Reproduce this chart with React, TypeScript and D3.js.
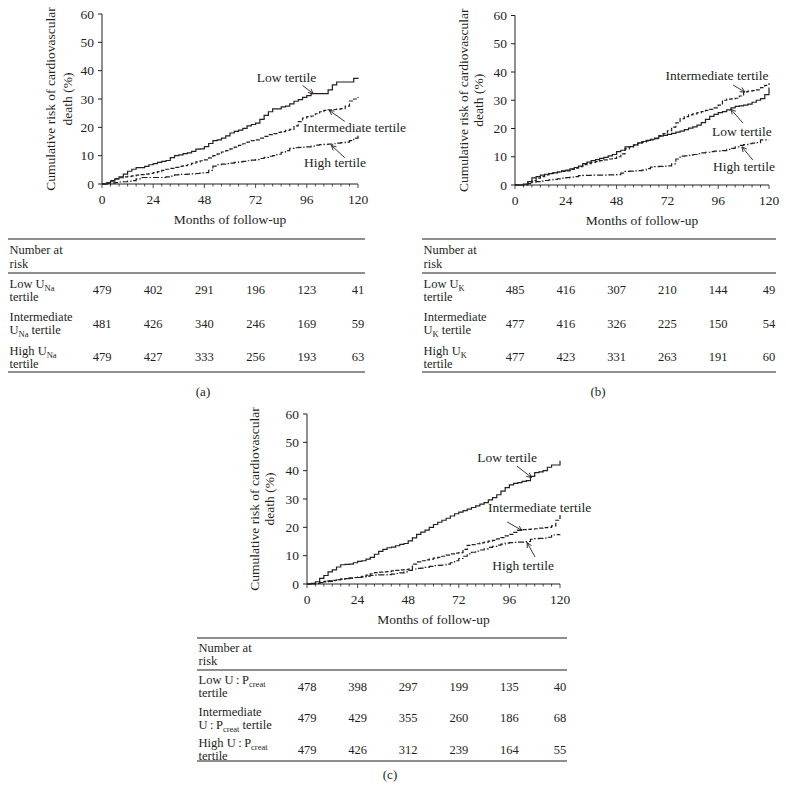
import React from "react";
import * as d3 from "d3";

// ---------- data ----------
const MONTHS = [
  0, 2, 4, 6, 8, 10, 12, 14, 16, 18,
  20, 22, 24, 26, 28, 30, 32, 34, 36, 38,
  40, 42, 44, 46, 48, 50, 52, 54, 56, 58,
  60, 62, 64, 66, 68, 70, 72, 74, 76, 78,
  80, 82, 84, 86, 88, 90, 92, 94, 96, 98,
  100, 102, 104, 106, 108, 110, 112, 114, 116, 118,
  120,
];
const X_TICKS = [0, 24, 48, 72, 96, 120];
const Y_TICKS = [0, 10, 20, 30, 40, 50, 60];
const SERIES_NAMES = ["Low tertile", "Intermediate tertile", "High tertile"];

// Panel (a): urinary sodium
const lowA = [
  0, 0.3, 1.0, 1.8, 2.5, 3.5, 4.5, 5.2, 5.8, 5.8,
  6.2, 6.8, 7.2, 7.6, 8.0, 8.3, 9.3, 10.0, 10.3, 10.7,
  11.0, 11.5, 12.3, 12.4, 13.2, 14.3, 15.3, 15.6, 16.2, 17.0,
  18.0, 18.6, 19.0, 19.6, 20.5, 21.0, 21.5, 22.8, 24.2, 25.5,
  26.5, 26.5, 27.2, 27.5, 28.3, 29.2, 29.8, 30.6, 31.2, 31.9,
  31.9, 31.9, 31.9, 33.2, 35.0, 36.0, 36.0, 36.0, 36.0, 37.3,
  37.5,
];
const midA = [
  0, 0.5, 1.2, 1.8, 2.2, 2.5, 2.7, 2.9, 3.1, 3.3,
  3.5, 3.7, 4.0, 4.4, 4.8, 5.2, 5.5, 5.9, 6.2, 6.5,
  6.8, 7.3, 7.8, 8.2, 8.5, 9.2, 10.0, 10.6, 11.3, 11.8,
  12.4, 13.0, 13.6, 14.2, 14.8, 15.3, 15.6, 16.2, 16.8, 17.4,
  17.8, 18.2, 18.5, 18.9, 19.3, 20.5, 22.0, 23.3, 23.8, 24.0,
  24.8, 25.5, 26.0, 26.2, 26.3, 26.4, 26.6, 27.5, 29.3, 30.0,
  30.7,
];
const highA = [
  0, 0, 0.3, 0.5, 0.7, 0.8, 1.0, 1.2, 1.8, 2.3,
  2.3, 2.3, 2.3, 2.3, 2.3, 2.5, 2.8, 3.2, 3.4, 3.4,
  3.5, 3.6, 3.7, 3.9, 4.0, 4.8, 6.3, 6.8, 7.0, 7.2,
  7.4, 7.6, 7.8, 8.0, 8.2, 8.4, 8.6, 9.0, 9.4, 9.8,
  10.0, 10.5, 11.2, 11.8, 12.6, 12.8, 12.9, 13.0, 13.1, 13.4,
  13.7, 13.9, 14.0, 14.1, 14.2, 14.4, 14.6, 14.8, 15.3, 16.2,
  17.0,
];
const riskLowA = [479, 402, 291, 196, 123, 41];
const riskMidA = [481, 426, 340, 246, 169, 59];
const riskHighA = [479, 427, 333, 256, 193, 63];

// Panel (b): urinary potassium
const lowB = [
  0, 0, 0.3, 1.2, 2.5, 3.0, 3.5, 3.8, 4.0, 4.3,
  4.6, 5.0, 5.3, 5.7, 6.2, 6.7, 7.6, 8.1, 8.6, 9.0,
  9.4, 9.8, 10.3, 10.8, 11.8, 12.3, 13.5, 13.6, 14.2, 14.9,
  15.4, 15.8, 16.2, 16.6, 17.3, 17.6, 17.9, 18.3, 18.7, 19.1,
  19.6, 20.1, 20.6, 21.2, 22.1, 23.2, 24.3, 25.0, 25.6, 26.0,
  26.6, 27.3, 27.8, 28.0, 28.3, 28.6, 29.3, 30.0, 30.6, 32.0,
  34.5,
];
const midB = [
  0, 0, 0.2, 0.8, 1.6, 2.4, 3.0, 3.6, 4.1, 4.4,
  4.6, 4.8, 5.0, 5.5, 6.0, 6.5, 7.2, 7.6, 8.0, 8.3,
  8.6, 8.9, 9.2, 9.4, 10.0, 11.0, 12.8, 13.5, 14.1, 14.7,
  15.2, 15.6, 16.0, 16.4, 17.5, 18.2, 19.2, 20.5, 22.0, 23.5,
  24.2, 24.8, 25.2, 25.6, 26.0, 26.4, 26.8, 27.3, 28.3, 30.0,
  30.4, 30.5, 30.7, 31.5, 33.0, 33.2, 33.4, 33.7, 34.5, 35.3,
  36.0,
];
const highB = [
  0, 0, 0, 0.5, 1.0, 1.2, 1.4, 1.6, 1.8, 2.0,
  2.2, 2.4, 2.6, 2.8, 3.0, 3.3, 3.4, 3.4, 3.5, 3.5,
  3.5, 3.5, 3.6, 3.6, 3.7, 4.2, 4.8, 4.9, 5.0, 5.1,
  5.3, 5.8, 6.3, 6.5, 6.6, 6.7, 6.8, 7.5, 9.2, 10.2,
  10.3, 10.5, 10.8, 11.1, 11.4, 11.6, 11.8, 12.0, 12.0, 12.2,
  12.6, 13.0, 13.5, 14.0, 14.3, 14.6, 14.8, 15.0, 16.0, 16.0,
  16.0,
];
const riskLowB = [485, 416, 307, 210, 144, 49];
const riskMidB = [477, 416, 326, 225, 150, 54];
const riskHighB = [477, 423, 331, 263, 191, 60];

// Panel (c): urine-to-plasma creatinine
const lowC = [
  0, 0.2, 0.8, 2.0, 3.0, 4.3, 5.0, 6.0, 6.8, 6.9,
  7.0, 7.5, 8.0, 8.2, 8.8, 9.4, 10.5, 11.5, 12.2, 12.8,
  13.0, 13.5, 14.0, 14.3, 15.2, 16.3, 17.5, 18.3, 19.0, 20.0,
  21.0, 21.8, 22.5, 23.2, 24.0, 24.8, 25.4, 25.9, 26.4, 27.0,
  27.6, 28.2, 28.7, 29.7, 30.5, 31.5, 32.8, 34.0, 35.0, 35.5,
  35.8, 36.2, 36.5, 38.0, 39.3, 39.6, 40.0, 41.2, 42.0, 42.0,
  43.5,
];
const midC = [
  0, 0, 0.2, 0.6, 0.9, 1.1, 1.3, 1.5, 1.7, 1.9,
  2.1, 2.3, 2.4, 2.7, 3.1, 3.6, 4.0, 4.2, 4.3, 4.4,
  4.6, 4.8, 5.0, 5.1, 5.3, 7.0, 7.8, 8.2, 8.5, 8.8,
  9.1, 9.4, 9.8, 10.2, 10.6, 10.9, 11.1, 12.2, 13.6, 13.9,
  14.2, 14.5, 14.8, 15.1, 15.4, 15.9, 16.4, 17.0, 17.5, 18.2,
  18.9, 19.2, 19.3, 19.4, 19.5, 19.7, 19.9, 20.0, 20.5, 22.5,
  24.5,
];
const highC = [
  0, 0, 0.2, 0.5, 0.7, 0.9, 1.2, 1.5, 1.7, 1.9,
  2.1, 2.2, 2.3, 2.5, 2.8, 3.0, 3.1, 3.2, 3.2, 3.3,
  3.5, 3.7, 3.9, 4.3, 4.8, 5.3, 5.5, 5.6, 5.9, 6.2,
  6.5, 6.6, 6.7, 7.0, 7.5, 8.2, 9.0, 9.8, 10.6, 11.2,
  11.6, 12.0, 12.4, 12.9, 13.3, 13.7, 14.1, 14.4, 14.6, 14.7,
  14.8, 14.8, 15.0, 15.8, 16.0, 16.1, 16.2, 16.5, 17.3, 17.4,
  17.5,
];
const riskLowC = [478, 398, 297, 199, 135, 40];
const riskMidC = [479, 429, 355, 260, 186, 68];
const riskHighC = [479, 426, 312, 239, 164, 55];

// ---------- styling ----------
const INK = "#231f20";
const FONT = "'Liberation Serif', 'Times New Roman', serif";
const DASHES = ["none", "4,2", "6,2,1.5,2"];

type Seg = { t: string; sub?: boolean };
type Ann = {
  text: string;
  at: [number, number];
  anchor: "start" | "middle";
  from: [number, number];
  to: [number, number];
};
type PanelCfg = {
  id: string;
  left: number;
  right: number;
  top: number;
  bottom: number;
  yTitleX: [number, number];
  series: number[][];
  anns: Ann[];
  table: {
    left: number;
    right: number;
    top: number;
    head: [number, number];
    headLine: number;
    rows: number[];
    gap: number;
    bottom: number;
    labels: Seg[][][];
    risk: number[][];
  };
  caption: [number, number, string];
};

const UP = "U\u2009:\u2009P";

const PANELS: PanelCfg[] = [
  {
    id: "a",
    left: 102,
    right: 358,
    top: 14,
    bottom: 184,
    yTitleX: [54.5, 72],
    series: [lowA, midA, highA],
    anns: [
      { text: SERIES_NAMES[0], at: [86.5, 36], anchor: "middle", from: [94, 34.8], to: [99, 31.9] },
      { text: SERIES_NAMES[1], at: [94.2, 18.4], anchor: "start", from: [113.8, 22.1], to: [106.5, 26.0] },
      { text: SERIES_NAMES[2], at: [109.2, 6.0], anchor: "middle", from: [113.8, 9.3], to: [107.5, 13.6] },
    ],
    table: {
      left: 8,
      right: 365,
      top: 239,
      head: [254, 268],
      headLine: 273,
      rows: [290, 323.5, 357],
      gap: 13,
      bottom: 372,
      labels: [
        [[{ t: "Low U" }, { t: "Na", sub: true }], [{ t: "tertile" }]],
        [[{ t: "Intermediate" }], [{ t: "U" }, { t: "Na", sub: true }, { t: " tertile" }]],
        [[{ t: "High U" }, { t: "Na", sub: true }], [{ t: "tertile" }]],
      ],
      risk: [riskLowA, riskMidA, riskHighA],
    },
    caption: [203, 396, "(a)"],
  },
  {
    id: "b",
    left: 515,
    right: 769,
    top: 15.5,
    bottom: 185,
    yTitleX: [467.5, 482.5],
    series: [lowB, midB, highB],
    anns: [
      { text: SERIES_NAMES[1], at: [95.4, 37.2], anchor: "middle", from: [103, 35.4], to: [108.6, 32.9] },
      { text: SERIES_NAMES[0], at: [107.2, 17.3], anchor: "middle", from: [107.7, 21.9], to: [102, 26.8] },
      { text: SERIES_NAMES[2], at: [108.2, 5.0], anchor: "middle", from: [112.4, 8.8], to: [107.2, 13.5] },
    ],
    table: {
      left: 422,
      right: 776,
      top: 239,
      head: [254, 268],
      headLine: 273,
      rows: [290, 323.5, 357],
      gap: 13,
      bottom: 372,
      labels: [
        [[{ t: "Low U" }, { t: "K", sub: true }], [{ t: "tertile" }]],
        [[{ t: "Intermediate" }], [{ t: "U" }, { t: "K", sub: true }, { t: " tertile" }]],
        [[{ t: "High U" }, { t: "K", sub: true }], [{ t: "tertile" }]],
      ],
      risk: [riskLowB, riskMidB, riskHighB],
    },
    caption: [598, 396, "(b)"],
  },
  {
    id: "c",
    left: 307,
    right: 560,
    top: 414,
    bottom: 584,
    yTitleX: [259, 273.5],
    series: [lowC, midC, highC],
    anns: [
      { text: SERIES_NAMES[0], at: [94.9, 43.1], anchor: "middle", from: [99.6, 41.6], to: [106.5, 37.6] },
      { text: SERIES_NAMES[1], at: [85.9, 25.4], anchor: "start", from: [94.9, 21.9], to: [102, 18.9] },
      { text: SERIES_NAMES[2], at: [102.5, 4.9], anchor: "middle", from: [108.2, 9.5], to: [104.4, 14.6] },
    ],
    table: {
      left: 197,
      right: 567,
      top: 638,
      head: [652, 665],
      headLine: 670,
      rows: [686.5, 718, 749.5],
      gap: 13,
      bottom: 761,
      labels: [
        [[{ t: "Low " + UP }, { t: "creat", sub: true }], [{ t: "tertile" }]],
        [[{ t: "Intermediate" }], [{ t: UP }, { t: "creat", sub: true }, { t: " tertile" }]],
        [[{ t: "High " + UP }, { t: "creat", sub: true }], [{ t: "tertile" }]],
      ],
      risk: [riskLowC, riskMidC, riskHighC],
    },
    caption: [390, 779, "(c)"],
  },
];

function SegLine({ segs, x, y, size }: { segs: Seg[]; x: number; y: number; size: number }) {
  const out: React.ReactNode[] = [];
  let down = false;
  segs.forEach((s, i) => {
    let dy = 0;
    if (s.sub && !down) {
      dy = 3;
      down = true;
    } else if (!s.sub && down) {
      dy = -3;
      down = false;
    }
    out.push(
      <tspan key={i} dy={dy} fontSize={s.sub ? size * 0.68 : size}>
        {s.t}
      </tspan>
    );
  });
  return (
    <text x={x} y={y} fontSize={size}>
      {out}
    </text>
  );
}

function Panel({ cfg }: { cfg: PanelCfg }) {
  const x = d3.scaleLinear().domain([0, 120]).range([cfg.left, cfg.right]);
  const y = d3.scaleLinear().domain([0, 60]).range([cfg.bottom, cfg.top]);
  const line = d3
    .line<number>()
    .x((_, i) => x(MONTHS[i]))
    .y((d) => y(d))
    .curve(d3.curveStepAfter);
  const minor = d3.range(0, 121, 4);
  const midY = (cfg.top + cfg.bottom) / 2;
  const midX = (cfg.left + cfg.right) / 2;
  const t = cfg.table;

  return (
    <g>
      {/* axes */}
      <line x1={cfg.left} x2={cfg.left} y1={cfg.top} y2={cfg.bottom} stroke={INK} strokeWidth={1} />
      <line x1={cfg.left} x2={cfg.right} y1={cfg.bottom} y2={cfg.bottom} stroke={INK} strokeWidth={1} />
      {Y_TICKS.map((v) => (
        <g key={"y" + v}>
          <line x1={cfg.left - 4} x2={cfg.left} y1={y(v)} y2={y(v)} stroke={INK} strokeWidth={1} />
          <text x={cfg.left - 8} y={y(v) + 4.5} textAnchor="end" fontSize={13.5}>
            {v}
          </text>
        </g>
      ))}
      {minor.map((m) => (
        <line
          key={"m" + m}
          x1={x(m)}
          x2={x(m)}
          y1={cfg.bottom}
          y2={cfg.bottom + (m % 24 === 0 ? 4 : 2.5)}
          stroke={INK}
          strokeWidth={0.8}
        />
      ))}
      {X_TICKS.map((m) => (
        <text key={"x" + m} x={x(m)} y={cfg.bottom + 19.5} textAnchor="middle" fontSize={13.5}>
          {m}
        </text>
      ))}
      <text x={midX} y={cfg.bottom + 40} textAnchor="middle" fontSize={13.5}>
        Months of follow-up
      </text>
      <text transform={`translate(${cfg.yTitleX[0]},${midY}) rotate(-90)`} textAnchor="middle" fontSize={13.5}>
        Cumulative risk of cardiovascular
      </text>
      <text transform={`translate(${cfg.yTitleX[1]},${midY}) rotate(-90)`} textAnchor="middle" fontSize={13.5}>
        death (%)
      </text>

      {/* curves */}
      {cfg.series.map((s, i) => (
        <path
          key={"s" + i}
          d={line(s) || ""}
          fill="none"
          stroke={INK}
          strokeWidth={1.2}
          strokeDasharray={DASHES[i]}
        />
      ))}

      {/* annotations */}
      {cfg.anns.map((a, i) => (
        <g key={"a" + i}>
          <text x={x(a.at[0])} y={y(a.at[1])} textAnchor={a.anchor} fontSize={13.5}>
            {a.text}
          </text>
          <line
            x1={x(a.from[0])}
            y1={y(a.from[1])}
            x2={x(a.to[0])}
            y2={y(a.to[1])}
            stroke={INK}
            strokeWidth={0.9}
            markerEnd="url(#arrowhead)"
          />
        </g>
      ))}

      {/* table */}
      <line x1={t.left} x2={t.right} y1={t.top} y2={t.top} stroke={INK} strokeWidth={1.2} />
      <line x1={t.left} x2={t.right} y1={t.headLine} y2={t.headLine} stroke={INK} strokeWidth={1.2} />
      <line x1={t.left} x2={t.right} y1={t.bottom} y2={t.bottom} stroke={INK} strokeWidth={1.2} />
      <text x={t.left + 1.5} y={t.head[0]} fontSize={12.5}>
        Number at
      </text>
      <text x={t.left + 1.5} y={t.head[1]} fontSize={12.5}>
        risk
      </text>
      {t.rows.map((cy, r) => (
        <g key={"r" + r}>
          <SegLine segs={t.labels[r][0]} x={t.left + 1.5} y={cy - t.gap / 2 + 4} size={12.5} />
          <SegLine segs={t.labels[r][1]} x={t.left + 1.5} y={cy + t.gap / 2 + 4} size={12.5} />
          {t.risk[r].map((n, k) => (
            <text key={k} x={x(X_TICKS[k])} y={cy + 4} textAnchor="middle" fontSize={12.5}>
              {n}
            </text>
          ))}
        </g>
      ))}
      <text x={cfg.caption[0]} y={cfg.caption[1]} textAnchor="middle" fontSize={13}>
        {cfg.caption[2]}
      </text>
    </g>
  );
}

export default function App() {
  return (
    <div style={{ position: "absolute", left: 0, top: 0 }}>
      <svg
        width={786}
        height={800}
        viewBox="0 0 786 800"
        style={{ display: "block", background: "#fff" }}
        fontFamily={FONT}
        fill={INK}
      >
        <defs>
          <marker
            id="arrowhead"
            viewBox="0 0 10 10"
            refX={9}
            refY={5}
            markerWidth={6}
            markerHeight={6}
            markerUnits="userSpaceOnUse"
            orient="auto"
          >
            <path d="M1,1 L9,5 L1,9" fill="none" stroke={INK} strokeWidth={1.4} />
          </marker>
        </defs>
        <rect width={786} height={800} fill="#fff" />
        {PANELS.map((p) => (
          <Panel key={p.id} cfg={p} />
        ))}
      </svg>
    </div>
  );
}
